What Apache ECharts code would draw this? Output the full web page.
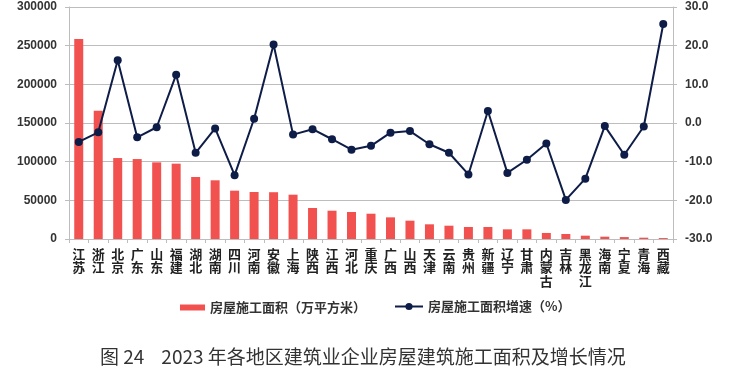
<!DOCTYPE html>
<html>
<head>
<meta charset="utf-8">
<script src="https://cdn.jsdelivr.net/npm/echarts@6/dist/echarts.min.js"></script>
<style>
html,body{margin:0;padding:0;background:#fff;}
#chart{width:747px;height:370px;}
</style>
</head>
<body>
<div id="chart"></div>
<script>
const categories = ['江苏','浙江','北京','广东','山东','福建','湖北','湖南','四川','河南','安徽','上海','陕西','江西','河北','重庆','广西','山西','天津','云南','贵州','新疆','辽宁','甘肃','内蒙古','吉林','黑龙江','海南','宁夏','青海','西藏'];
const areaValues = [258600,165900,104700,103400,99100,97400,80200,75900,62500,60800,60500,57300,40100,36600,34900,32700,28000,23700,19000,17200,15500,15500,12500,12500,7800,6500,4300,3000,2500,1700,1200];
const growthValues = [-4.9,-2.4,16.2,-3.7,-1.1,12.5,-7.7,-1.4,-13.5,1.1,20.3,-3.0,-1.6,-4.2,-6.9,-5.9,-2.5,-2.1,-5.5,-7.7,-13.3,3.1,-12.9,-9.5,-5.3,-19.9,-14.4,-0.8,-8.2,-0.9,25.6];
const leftTicks = {min:0, max:300000, interval:50000};
const rightTicks = {min:-30, max:30, interval:10};
const barName = '房屋施工面积（万平方米）';
const lineName = '房屋施工面积增速（%）';
const titleText = '图 24    2023 年各地区建筑业企业房屋建筑施工面积及增长情况';

const chart = echarts.init(document.getElementById('chart'));
const gray = '#BDBDBD';
const axisFont = {fontFamily:'Liberation Sans, Arial, sans-serif', fontWeight:'bold', fontSize:12, color:'#333'};
const legendFont = {fontFamily:'Noto Sans CJK SC', fontWeight:'bold', fontSize:13, color:'#333'};
chart.setOption({
  animation:false,
  backgroundColor:'#fff',
  title:{text:titleText, left:95, top:342, textStyle:{fontFamily:'Noto Sans CJK SC', fontWeight:'normal', fontSize:19, color:'#333'}},
  legend:[
    {left:175, top:296, icon:'rect', itemWidth:25, itemHeight:6, data:[barName], textStyle:legendFont},
    {left:389, top:295, itemWidth:28, itemHeight:9, data:[lineName], textStyle:legendFont}
  ],
  grid:{left:69, right:74, top:7, bottom:131, containLabel:false},
  xAxis:{type:'category', data:categories, boundaryGap:true,
    axisLine:{lineStyle:{color:gray}}, axisTick:{show:true, length:4, lineStyle:{color:gray}},
    axisLabel:{interval:0, margin:8, lineHeight:13.5, fontFamily:'Noto Sans CJK SC', fontWeight:'bold', fontSize:13, color:'#222',
      formatter:v=>v.split('').join('\n')}},
  yAxis:[
    {type:'value', min:leftTicks.min, max:leftTicks.max, interval:leftTicks.interval,
     axisLine:{show:true, lineStyle:{color:gray}}, axisTick:{show:true, length:4, lineStyle:{color:gray}},
     splitLine:{lineStyle:{color:gray}}, axisLabel:Object.assign({margin:12, formatter:v=>String(v)}, axisFont)},
    {type:'value', min:rightTicks.min, max:rightTicks.max, interval:rightTicks.interval, position:'right',
     axisLine:{show:true, lineStyle:{color:gray}}, axisTick:{show:true, length:4, lineStyle:{color:gray}},
     splitLine:{show:false}, axisLabel:Object.assign({margin:12, formatter:v=>v.toFixed(1)}, axisFont)}
  ],
  series:[
    {name:barName, type:'bar', data:areaValues, barWidth:9, itemStyle:{color:'#F2524F'}},
    {name:lineName, type:'line', yAxisIndex:1, data:growthValues, symbol:'circle', symbolSize:8,
     lineStyle:{color:'#0E1C48', width:2}, itemStyle:{color:'#0E1C48'}}
  ]
});
</script>
</body>
</html>
